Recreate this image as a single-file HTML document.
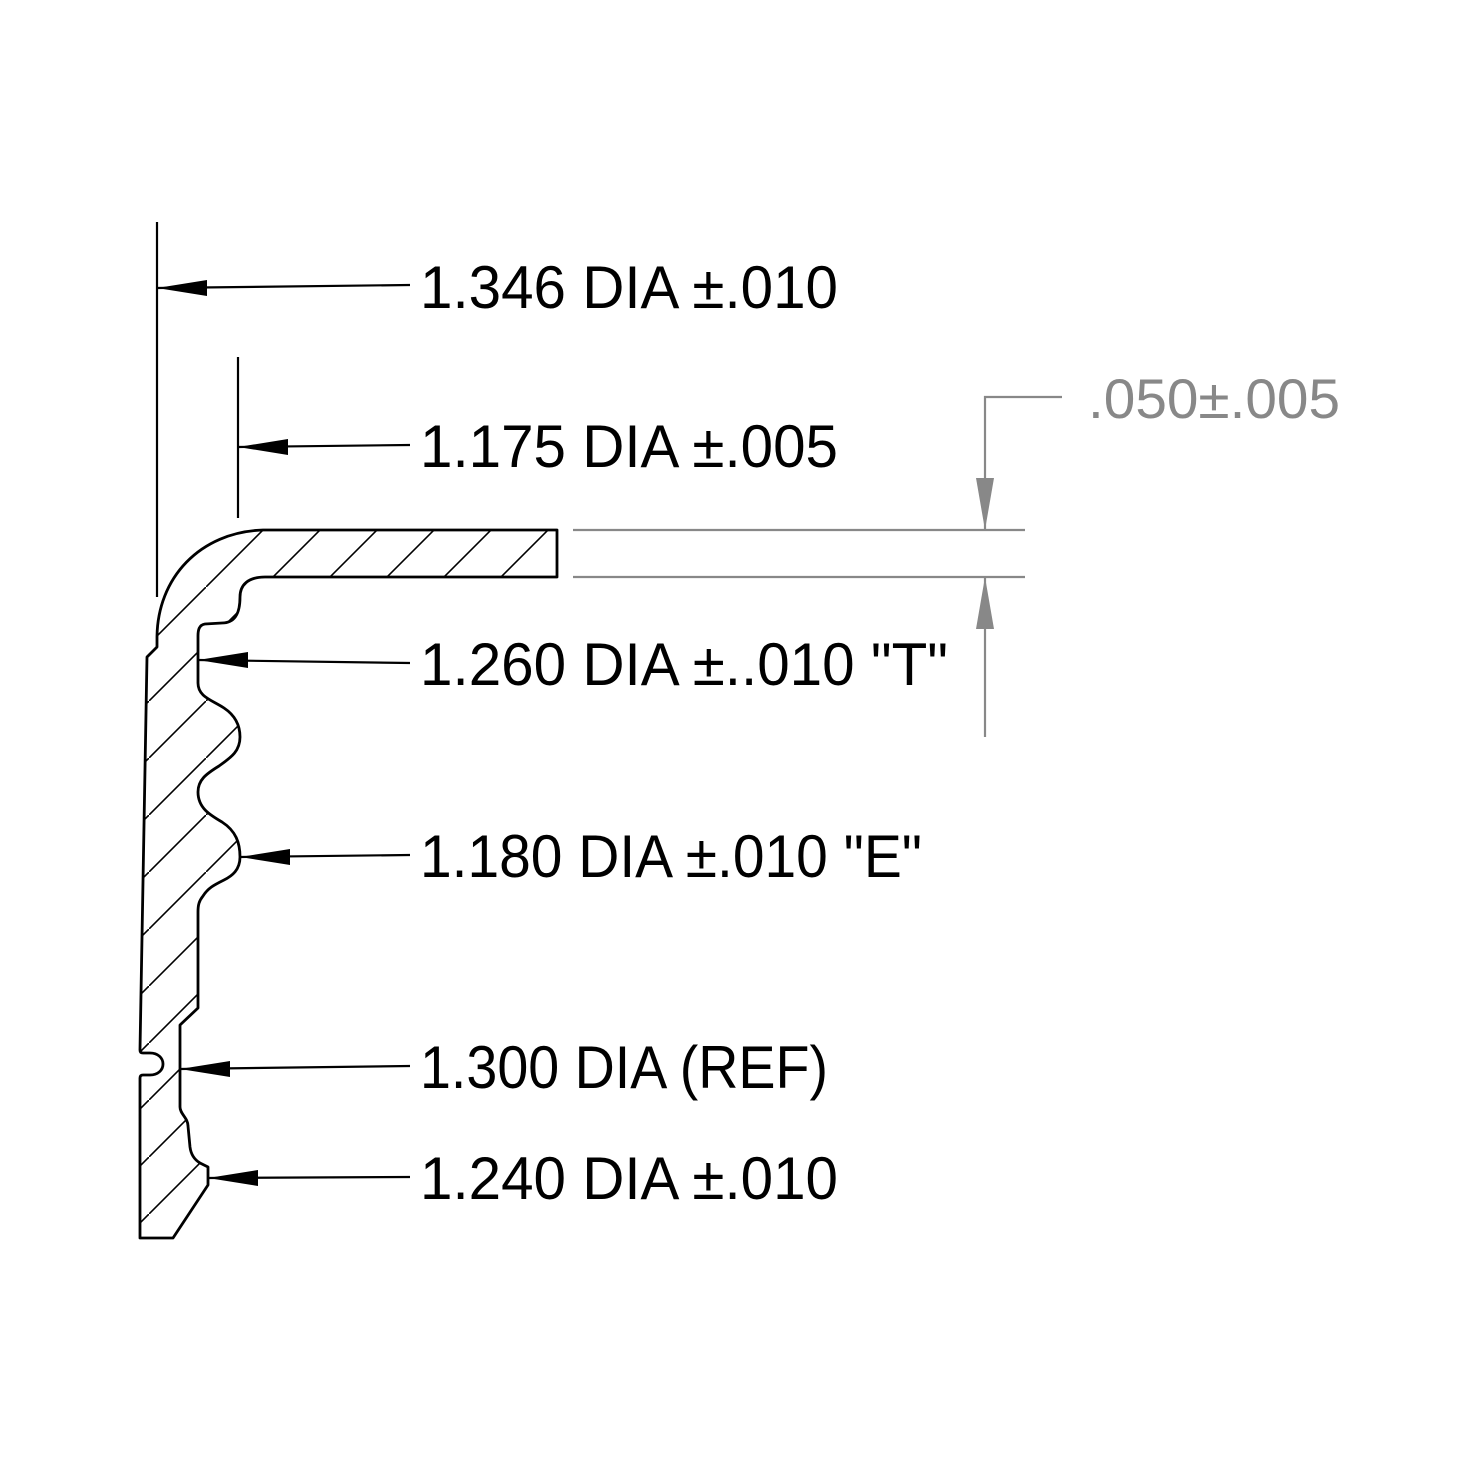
<!DOCTYPE html>
<html><head><meta charset="utf-8"><style>html,body{margin:0;padding:0;background:#fff}svg{display:block}</style></head>
<body>
<svg width="1459" height="1459" viewBox="0 0 1459 1459" xmlns="http://www.w3.org/2000/svg">
<defs>
<pattern id="h" patternUnits="userSpaceOnUse" x="263" y="530" width="57" height="57">
<line x1="0" y1="57" x2="57" y2="0" stroke="#000" stroke-width="1.6"/>
</pattern>
</defs>
<rect width="1459" height="1459" fill="#fff"/>
<path d="M263,530 L557,530 L557,577 L265,577 C248,577 240,585 240,597 C240,612 236,623 222,623 L205,624 C199,625 198,630 198,636 L198,683 C198,697 212,700 224,708 C236,716 240,726 240,737 C240,752 230,758 219,766 C206,774 198,780 198,792 C198,808 210,815 222,822 C236,831 240,843 240,857 C240,870 232,876 224,880 C214,885 208,888 203,896 C199,901 198,905 198,912 L198,1008 L180,1025 L180,1107 C180,1114 188,1118 188,1126 L190,1147 C191,1155 195,1160 200,1163 L208,1167 L208,1185 L173,1238 L140,1238 L140,1078 C140,1076 141,1075 143,1075 L150,1075 C158,1075 163,1070 163,1064 C163,1058 158,1053 150,1053 L143,1053 C141,1053 140,1052 140,1050 L147,657 L157,647 L157,638 C157,578 200,532 263,530 Z" fill="url(#h)" stroke="#000" stroke-width="2.8" stroke-linejoin="round"/>
<g stroke="#000" stroke-width="2.2" fill="none">
<line x1="157" y1="222" x2="157" y2="597"/>
<line x1="238" y1="357" x2="238" y2="518"/>
<line x1="157" y1="288" x2="410" y2="285"/>
<line x1="238" y1="447" x2="410" y2="445"/>
<line x1="198" y1="660" x2="410" y2="663"/>
<line x1="240" y1="857" x2="410" y2="855"/>
<line x1="180" y1="1069" x2="410" y2="1066"/>
<line x1="208" y1="1178" x2="410" y2="1177"/>
</g>
<g fill="#000">
<polygon points="157,288 207,280 207,296"/>
<polygon points="238,447 288,439 288,455"/>
<polygon points="198,660 248,652 248,668"/>
<polygon points="240,857 290,849 290,865"/>
<polygon points="180,1069 230,1061 230,1077"/>
<polygon points="208,1178 258,1170 258,1186"/>
</g>
<g stroke="#888" stroke-width="2.2" fill="none">
<line x1="573" y1="530" x2="1025" y2="530"/>
<line x1="573" y1="577" x2="1025" y2="577"/>
<polyline points="1062,397 985,397 985,530"/>
<line x1="985" y1="577" x2="985" y2="737"/>
</g>
<g fill="#888">
<polygon points="985,530 976,478 994,478"/>
<polygon points="985,577 976,629 994,629"/>
</g>
<g font-family="'Liberation Sans', sans-serif" font-size="60" fill="#000">
<text x="420" y="308" textLength="418" lengthAdjust="spacingAndGlyphs">1.346 DIA ±.010</text>
<text x="420" y="467" textLength="418" lengthAdjust="spacingAndGlyphs">1.175 DIA ±.005</text>
<text x="420" y="685" textLength="528" lengthAdjust="spacingAndGlyphs">1.260 DIA ±..010  "T"</text>
<text x="420" y="877" textLength="502" lengthAdjust="spacingAndGlyphs">1.180 DIA ±.010 "E"</text>
<text x="420" y="1088" textLength="408" lengthAdjust="spacingAndGlyphs">1.300 DIA (REF)</text>
<text x="420" y="1199" textLength="418" lengthAdjust="spacingAndGlyphs">1.240 DIA ±.010</text>
<text x="1088" y="418" fill="#888" font-size="56" textLength="252" lengthAdjust="spacingAndGlyphs">.050±.005</text>
</g>
</svg>
</body></html>
